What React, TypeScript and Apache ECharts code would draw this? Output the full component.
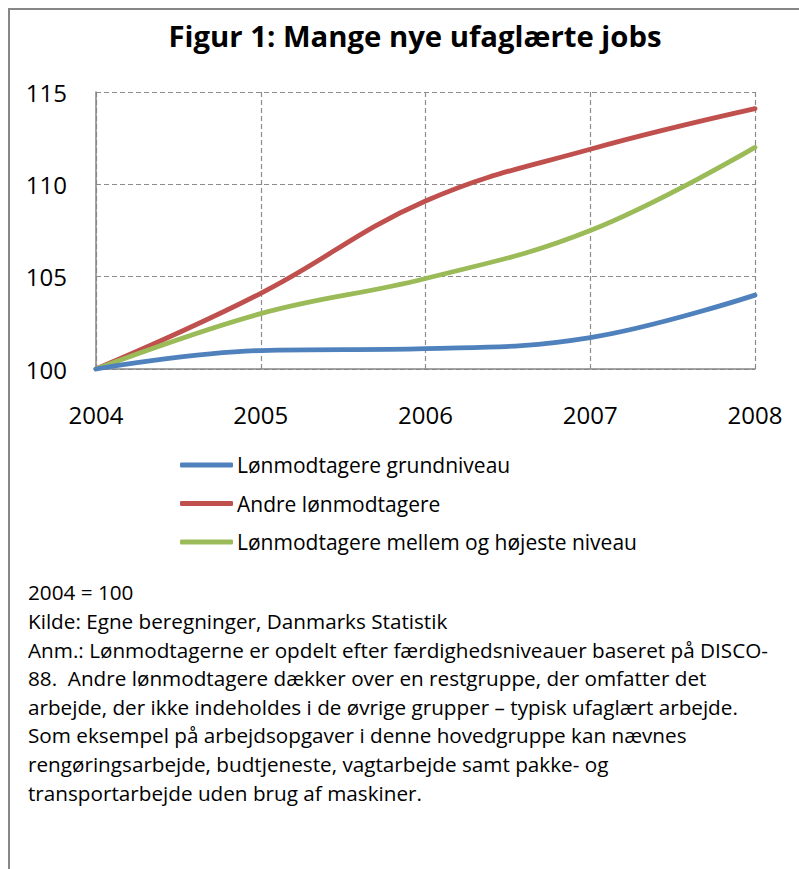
import React, { useEffect, useRef } from "react";
import * as echarts from "echarts";

const years = [2004, 2005, 2006, 2007, 2008];
const seriesNames = [
  "Lønmodtagere grundniveau",
  "Andre lønmodtagere",
  "Lønmodtagere mellem og højeste niveau",
];
const grundniveau = [100, 101.0, 101.1, 101.7, 104.0];
const andre = [100, 104.1, 109.1, 111.9, 114.1];
const mellemHoej = [100, 103.0, 104.9, 107.5, 112.0];
const colors = ["#4F81BD", "#C0504D", "#9BBB59"];
const yTicks = { min: 100, max: 115, interval: 5 };
const noteLines = [
  "2004 = 100",
  "Kilde: Egne beregninger, Danmarks Statistik",
  "Anm.: Lønmodtagerne er opdelt efter færdighedsniveauer baseret på DISCO-",
  "88.  Andre lønmodtagere dækker over en restgruppe, der omfatter det",
  "arbejde, der ikke indeholdes i de øvrige grupper – typisk ufaglært arbejde.",
  "Som eksempel på arbejdsopgaver i denne hovedgruppe kan nævnes",
  "rengøringsarbejde, budtjeneste, vagtarbejde samt pakke- og",
  "transportarbejde uden brug af maskiner.",
];

const FONT = "'Open Sans', 'Noto Sans', sans-serif";

export default function App() {
  const ref = useRef<HTMLDivElement>(null);
  useEffect(() => {
    if (!ref.current) return;
    const chart = echarts.init(ref.current, undefined, { renderer: "svg" });
    const allData = [grundniveau, andre, mellemHoej];
    chart.setOption({
      animation: false,
      backgroundColor: "#ffffff",
      textStyle: { fontFamily: FONT, color: "#000" },
      title: {
        text: "Figur 1: Mange nye ufaglærte jobs",
        left: 410,
        textAlign: "center",
        top: 16,
        textStyle: { fontFamily: FONT, fontSize: 29.3, fontWeight: "bold", color: "#000" },
      },
      grid: { left: 96, right: 44, top: 92, bottom: 500, containLabel: false },
      xAxis: {
        type: "value",
        min: 2004,
        max: 2008,
        interval: 1,
        axisLine: { show: true, lineStyle: { color: "#868686", width: 1.5 } },
        axisTick: { show: false },
        axisLabel: {
          fontSize: 24,
          color: "#000",
          fontFamily: FONT,
          margin: 33,
          formatter: (v: number) => String(v),
        },
        splitLine: { show: true, lineStyle: { color: "#8c8c8c", type: [5, 3], width: 1.2 } },
      },
      yAxis: {
        type: "value",
        min: yTicks.min,
        max: yTicks.max,
        interval: yTicks.interval,
        axisLine: { show: true, lineStyle: { color: "#868686", width: 1.5 } },
        axisTick: { show: false },
        axisLabel: { fontSize: 24, color: "#000", fontFamily: FONT, margin: 29 },
        splitLine: { show: true, lineStyle: { color: "#8c8c8c", type: [5, 3], width: 1.2 } },
      },
      legend: {
        orient: "vertical",
        left: 180,
        top: 453,
        padding: 0,
        itemWidth: 53,
        itemHeight: 5,
        itemGap: 14.5,
        icon: "roundRect",
        textStyle: { fontFamily: FONT, fontSize: 21, color: "#000", lineHeight: 24, padding: [0, 0, 0, -1] },
        data: seriesNames,
      },
      series: seriesNames.map((name, i) => ({
        name,
        type: "line",
        smooth: 0.4,
        symbol: "none",
        data: years.map((y, j) => [y, allData[i][j]]),
        lineStyle: { color: colors[i], width: 4.8, cap: "round" },
        itemStyle: { color: colors[i] },
        z: i === 0 ? 4 : i === 2 ? 3 : 2,
      })),
      graphic: [
        { type: "line", shape: { x1: 9, y1: 9, x2: 9, y2: 869 }, style: { stroke: "#878787", lineWidth: 2 } },
        { type: "line", shape: { x1: 8, y1: 9, x2: 799, y2: 9 }, style: { stroke: "#878787", lineWidth: 2 } },
        {
          type: "text",
          left: 28,
          top: 578,
          style: {
            text: noteLines.join("\n"),
            fontFamily: FONT,
            fontSize: 20.7,
            lineHeight: 28.6,
            fill: "#000",
          },
        },
      ],
    });
    return () => chart.dispose();
  }, []);
  return (
    <div
      ref={ref}
      style={{ position: "fixed", left: 0, top: 0, width: 799, height: 869, background: "#fff" }}
    />
  );
}
